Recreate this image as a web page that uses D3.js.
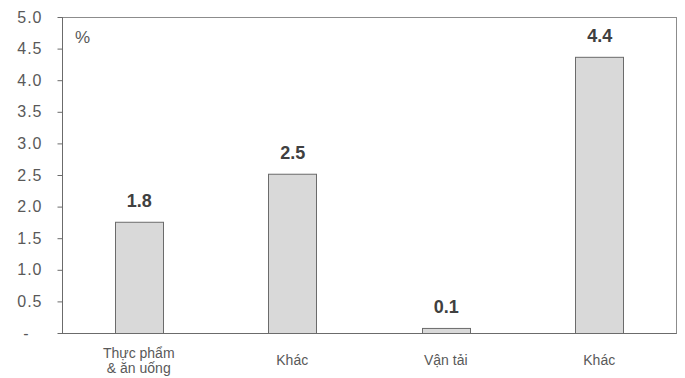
<!DOCTYPE html>
<html>
<head>
<meta charset="utf-8">
<script src="https://cdn.jsdelivr.net/npm/d3@7"></script>
<style>
  body { margin: 0; background: #fff; }
  svg { display: block; font-family: Arial, "Liberation Sans", sans-serif; }
</style>
</head>
<body>
<svg id="chart" width="685" height="378"></svg>
<script>
// Category labels (line breaks split with "\n")
const categories = ["Thực phẩm\n& ăn uống", "Khác", "Vận tải", "Khác"];
const values = [1.76, 2.52, 0.08, 4.37];
const yTicks = [0, 0.5, 1.0, 1.5, 2.0, 2.5, 3.0, 3.5, 4.0, 4.5, 5.0];
const unitLabel = "%";

const svg = d3.select("#chart");
const margin = { left: 62, right: 9, top: 17, bottom: 45 };
const W = 685, H = 378;
const innerW = W - margin.left - margin.right;
const innerH = H - margin.top - margin.bottom;

const g = svg.append("g").attr("transform", `translate(${margin.left},${margin.top})`);

const x = d3.scaleBand().domain(d3.range(categories.length)).range([0, innerW]).paddingInner(0.69).paddingOuter(0.345);
const y = d3.scaleLinear().domain([0, 5]).range([innerH, 0]);

// Frame around plot area
g.append("rect")
  .attr("x", 0.5).attr("y", 0.5)
  .attr("width", innerW).attr("height", innerH)
  .attr("fill", "none").attr("stroke", "#8c8c8c").attr("stroke-width", 1);

// Bars
g.selectAll("rect.bar").data(values).join("rect")
  .attr("class", "bar")
  .attr("x", (d, i) => Math.round(x(i)) + 0.5)
  .attr("y", d => y(d) + 0.5)
  .attr("width", Math.round(x.bandwidth()))
  .attr("height", d => innerH - y(d))
  .attr("fill", "#d9d9d9")
  .attr("stroke", "#6b6b6b")
  .attr("stroke-width", 1);

// Value labels
const fmt = d3.format(".1f");
g.selectAll("text.val").data(values).join("text")
  .attr("class", "val")
  .attr("x", (d, i) => x(i) + x.bandwidth() / 2 + 0.5)
  .attr("y", d => y(d) - 15)
  .attr("text-anchor", "middle")
  .attr("font-size", 18).attr("font-weight", "bold")
  .attr("fill", "#404040")
  .text(d => fmt(d));

// Y axis
const yAxis = d3.axisLeft(y).tickValues(yTicks).tickSize(5).tickPadding(15)
  .tickFormat(d => d === 0 ? "-" : fmt(d));
const ya = g.append("g").attr("transform", "translate(0.5,0)").call(yAxis);
ya.select(".domain").attr("stroke", "#6b6b6b").attr("d", `M0,0.5V${innerH + 0.5}`);
ya.selectAll(".tick line").attr("stroke", "#6b6b6b");
ya.selectAll(".tick text").attr("fill", "#595959").attr("font-size", 16)
  .attr("letter-spacing", "1px")
  .attr("font-family", "Arial, 'Liberation Sans', sans-serif");
ya.selectAll(".tick").filter(d => d === 0).select("text").attr("dx", "-13");

// Bottom axis line
g.append("line").attr("x1", 0).attr("x2", innerW + 0.5)
  .attr("y1", innerH + 0.5).attr("y2", innerH + 0.5)
  .attr("stroke", "#6b6b6b");

// Category labels
const cat = g.selectAll("text.cat").data(categories).join("text")
  .attr("class", "cat")
  .attr("text-anchor", "middle")
  .attr("font-size", 14)
  .attr("fill", "#595959");
cat.each(function(d, i) {
  const lines = d.split("\n");
  const cx = x(i) + x.bandwidth() / 2;
  const lh = 15;
  const startY = innerH + 32 - (lines.length - 1) * lh / 2;
  d3.select(this).selectAll("tspan").data(lines).join("tspan")
    .attr("x", cx).attr("y", (l, k) => startY + k * lh)
    .text(l => l);
});

// Unit label
g.append("text").attr("x", 13).attr("y", 26)
  .attr("font-size", 17).attr("fill", "#595959")
  .text(unitLabel);
</script>
</body>
</html>
